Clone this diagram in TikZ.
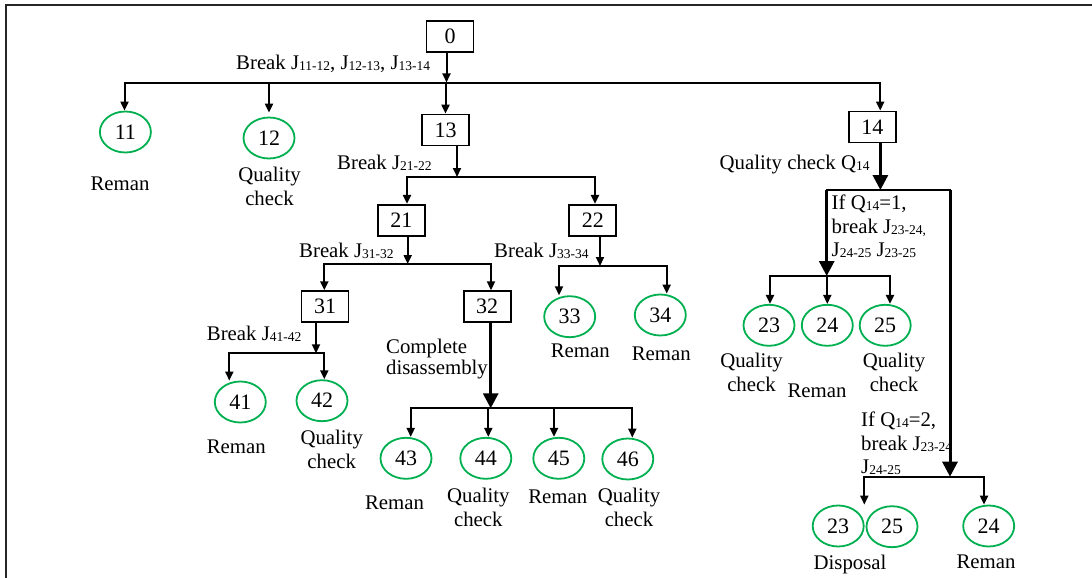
\documentclass[tikz,border=0pt]{standalone}
\usepackage{fontspec}
\setmainfont{Liberation Serif}
\usetikzlibrary{arrows.meta,shapes.geometric}
\definecolor{ringgreen}{RGB}{0,176,80}
\newcommand\lblfont{\fontsize{20.8}{24}\selectfont}
\newcommand\numfont{\fontsize{22}{24}\selectfont}
\newcommand\js[1]{\raisebox{-1pt}{\fontsize{13.5}{14}\selectfont #1}}
\begin{document}
\begin{tikzpicture}[x=1pt,y=-1pt,
  box/.style={draw, line width=1.8pt, minimum width=47pt, minimum height=31pt, inner sep=0pt, font=\numfont},
  part/.style={draw=ringgreen, ellipse, line width=1.8pt, minimum width=51pt, minimum height=41pt, inner sep=0pt, font=\numfont},
  lbl/.style={inner sep=0pt, font=\lblfont, align=center},
  conn/.style={line width=2pt, -{Triangle[length=9pt,width=8pt]}},
  heavy/.style={line width=3pt, -{Triangle[length=15pt,width=15pt]}},
  rail/.style={line width=2pt, line cap=rect}]
\useasboundingbox (0,0) rectangle (1092,578);
% frame
\draw[line width=2pt, black!85] (6,578) -- (6,5) -- (1092,5);

% parts and sub-assemblies
\node[box] (n0) at (450,36.5) {0};
\node[part] (n11) at (125.4,132) {11};
\node[part] (n12) at (269,138) {12};
\node[box] (n13) at (445.5,130) {13};
\node[box] (n14) at (872.3,127) {14};
\node[box] (n21) at (401.3,220.3) {21};
\node[box] (n22) at (592.8,220.3) {22};
\node[box] (n31) at (325,306.7) {31};
\node[box] (n32) at (487.2,306.7) {32};
\node[part] (n33) at (569.7,316.7) {33};
\node[part] (n34) at (660.3,315) {34};
\node[part] (n41) at (240.3,402) {41};
\node[part] (n42) at (322,400.7) {42};
\node[part] (n43) at (406,458.3) {43};
\node[part] (n44) at (485.8,458.3) {44};
\node[part] (n45) at (558.8,458.3) {45};
\node[part] (n46) at (627.8,459) {46};
\node[part] (n23) at (769,325.3) {23};
\node[part] (n24) at (827.3,325.3) {24};
\node[part] (n25) at (885.2,325.3) {25};
\node[part] (n23b) at (838.2,526) {23};
\node[part] (n25b) at (892,526.7) {25};
\node[part] (n24b) at (988.7,526) {24};

% branching points
\coordinate (s0) at (446.5,82.5);
\coordinate (s0l) at (124.5,82.5);
\coordinate (s0r) at (880.2,82.5);
\coordinate (s13) at (457,177);
\coordinate (s13l) at (407,177);
\coordinate (s13r) at (595,177);
\coordinate (s21) at (407.7,264);
\coordinate (s21l) at (324.3,264);
\coordinate (s21r) at (491,264);
\coordinate (s22) at (600,266);
\coordinate (s22l) at (559,266);
\coordinate (s22r) at (666.7,266);
\coordinate (s31) at (316,353.3);
\coordinate (s31l) at (229.3,353.3);
\coordinate (s31r) at (324.3,353.3);
\coordinate (s32) at (490.7,408.3);
\coordinate (s32a) at (410.7,408.3);
\coordinate (s32b) at (488.3,408.3);
\coordinate (s32c) at (554,408.3);
\coordinate (s32d) at (632.3,408.3);
\coordinate (s14) at (880.4,190);
\coordinate (s14l) at (826.7,190);
\coordinate (s14r) at (950,190);
\coordinate (q1) at (826.7,276);
\coordinate (q1l) at (770,276);
\coordinate (q1r) at (890,276);
\coordinate (q2) at (950,476.7);
\coordinate (q2l) at (864.3,476.7);
\coordinate (q2r) at (984,476.7);

% level 1
\draw[conn] (n0.south -| s0) -- (s0);
\draw[rail] (s0l) -- (s0r);
\draw[conn] (s0l) -- (s0l |- n11.north);
\draw[conn, shorten >=4pt] (n12 |- s0) -- (n12.north);
\draw[conn] (n13 |- s0) -- (n13.north);
\draw[conn] (s0r) -- (s0r |- n14.north);

% sub-assembly 13
\draw[conn] (n13.south -| s13) -- (s13);
\draw[rail] (s13l) -- (s13r);
\draw[conn] (s13l) -- (s13l |- n21.north);
\draw[conn] (s13r) -- (s13r |- n22.north);

% sub-assembly 21
\draw[conn] (n21.south -| s21) -- (s21);
\draw[rail] (s21l) -- (s21r);
\draw[conn] (s21l) -- (s21l |- n31.north);
\draw[conn] (s21r) -- (s21r |- n32.north);

% sub-assembly 22
\draw[conn] (n22.south -| s22) -- (s22);
\draw[rail] (s22l) -- (s22r);
\draw[conn] (s22l) -- (s22l |- n33.north);
\draw[conn] (s22r) -- (s22r |- n34.north);

% sub-assembly 31
\draw[conn] (n31.south -| s31) -- (s31);
\draw[rail] (s31l) -- (s31r);
\draw[conn] (s31l) -- (s31l |- n41.north);
\draw[conn] (s31r) -- (s31r |- n42.north);

% sub-assembly 32
\draw[heavy] (n32.south -| s32) -- (s32);
\draw[rail] (s32a) -- (s32d);
\draw[conn] (s32a) -- (s32a |- n43.north);
\draw[conn] (s32b) -- (s32b |- n44.north);
\draw[conn] (s32c) -- (s32c |- n45.north);
\draw[conn] (s32d) -- (s32d |- n46.north);

% sub-assembly 14
\draw[heavy] (n14.south -| s14) -- (s14);
\draw[rail] (s14l) -- (s14r);
\draw[heavy] (s14l) -- (q1);
\draw[rail] (q1l) -- (q1r);
\draw[conn] (q1l) -- (q1l |- n23.north);
\draw[conn] (n24 |- q1) -- (n24.north);
\draw[conn] (q1r) -- (q1r |- n25.north);
\draw[heavy] (s14r) -- (q2);
\draw[rail] (q2l) -- (q2r);
\draw[conn] (q2l) -- (q2l |- n23b.north);
\draw[conn] (q2r) -- (q2r |- n24b.north);

% labels
\node[lbl, anchor=north west] (t0) at (236,55) {Break J\js{11-12}, J\js{12-13}, J\js{13-14}};
\node[lbl, anchor=north] (t11) at (120,177) {Reman};
\node[lbl, anchor=north] (t12) at (269.5,167) {Quality\\check};
\node[lbl, anchor=north west] (t13) at (337,155) {Break J\js{21-22}};
\node[lbl, anchor=north west] (t14) at (719.5,155) {Quality check Q\js{14}};
\node[lbl, anchor=north west, align=left, font=\fontsize{20.8}{23.5}\selectfont] (t14a) at (831.5,195) {If Q\js{14}=1,\\break J\js{23-24,}\\J\js{24-25} J\js{23-25}};
\node[lbl, anchor=north] (t23) at (751.5,352.7) {Quality\\check};
\node[lbl, anchor=north] (t24) at (817,383.3) {Reman};
\node[lbl, anchor=north] (t25) at (894,352.7) {Quality\\check};
\node[lbl, anchor=north west, align=left, font=\fontsize{20.8}{23.5}\selectfont] (t14b) at (861,411.7) {If Q\js{14}=2,\\break J\js{23-24}\\J\js{24-25}};
\node[lbl, anchor=north] (t23b) at (850,555) {Disposal};
\node[lbl, anchor=north] (t24b) at (986,554.3) {Reman};
\node[lbl, anchor=north west] (t21) at (299,243.3) {Break J\js{31-32}};
\node[lbl, anchor=north west] (t22) at (494,243.3) {Break J\js{33-34}};
\node[lbl, anchor=north] (t33) at (580.3,343.3) {Reman};
\node[lbl, anchor=north] (t34) at (661.3,346.7) {Reman};
\node[lbl, anchor=north west] (t31) at (206.7,326) {Break J\js{41-42}};
\node[lbl, anchor=north west, align=left, font=\fontsize{20.8}{21}\selectfont] (t32) at (386,339.3) {Complete\\disassembly};
\node[lbl, anchor=north] (t41) at (236.3,440) {Reman};
\node[lbl, anchor=north] (t42) at (331.7,430) {Quality\\check};
\node[lbl, anchor=north] (t43) at (394.5,496) {Reman};
\node[lbl, anchor=north] (t44) at (478.3,488.3) {Quality\\check};
\node[lbl, anchor=north] (t45) at (557.8,489.3) {Reman};
\node[lbl, anchor=north] (t46) at (629,488.3) {Quality\\check};
\end{tikzpicture}
\end{document}
